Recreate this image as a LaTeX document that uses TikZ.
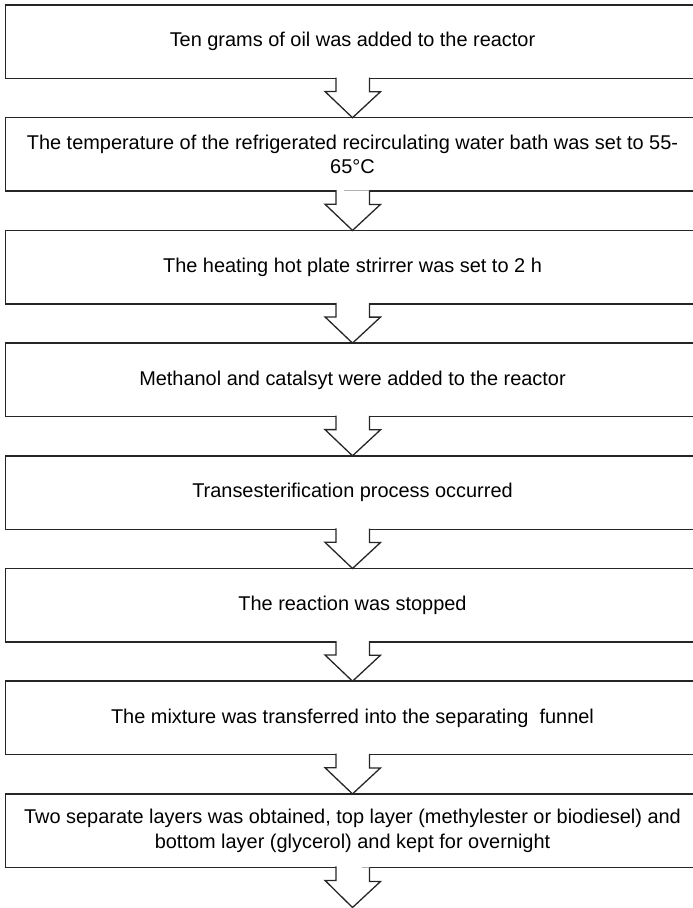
\documentclass[tikz,border=0pt]{standalone}
\usepackage{fontspec}
\setmainfont{Liberation Sans}
\usepackage{tikz}
\usetikzlibrary{calc}

\begin{document}
\begin{tikzpicture}[x=1bp,y=-1bp,
  stepbox/.style={draw=black!85, line width=1.5bp, minimum width=694bp, minimum height=73.5bp,
    inner sep=0pt, outer sep=0pt, align=center, font=\fontsize{20}{24.5}\selectfont},
  blockarr/.style={draw=black!85, fill=white, line width=1.3bp, line join=miter}]
\useasboundingbox (0,0) rectangle (693,908);
\node[stepbox] (s1) at (352.5,41.75) {Ten grams of oil was added to the reactor};
\node[stepbox] (s2) at (352.5,154.45) {The temperature of the refrigerated recirculating water bath was set to 55-\\65°C};
\node[stepbox] (s3) at (352.5,267.15) {The heating hot plate strirrer was set to 2 h};
\node[stepbox] (s4) at (352.5,379.85) {Methanol and catalsyt were added to the reactor};
\node[stepbox] (s5) at (352.5,492.55) {Transesterification process occurred};
\node[stepbox] (s6) at (352.5,605.25) {The reaction was stopped};
\node[stepbox] (s7) at (352.5,717.95) {The mixture was transferred into the separating~ funnel};
\node[stepbox] (s8) at (352.5,830.65) {Two separate layers was obtained, top layer (methylester or biodiesel) and\\bottom layer (glycerol) and kept for overnight};
\coordinate (end) at (352.5,907.5);
% hollow block arrows between the steps
\draw[blockarr] ([xshift=-16.5bp,yshift=1bp]s1.south) -- ++(0,14) -- ++(-11,0) -- (s2.north) -- ++(28,-26) -- ++(-11,0) -- ++(0,-14);
\draw[blockarr] ([xshift=-16.5bp,yshift=1bp]s2.south) -- ++(0,14) -- ++(-11,0) -- (s3.north) -- ++(28,-26) -- ++(-11,0) -- ++(0,-14);
\draw[blockarr] ([xshift=-16.5bp,yshift=1bp]s3.south) -- ++(0,14) -- ++(-11,0) -- (s4.north) -- ++(28,-26) -- ++(-11,0) -- ++(0,-14);
\draw[blockarr] ([xshift=-16.5bp,yshift=1bp]s4.south) -- ++(0,14) -- ++(-11,0) -- (s5.north) -- ++(28,-26) -- ++(-11,0) -- ++(0,-14);
\draw[blockarr] ([xshift=-16.5bp,yshift=1bp]s5.south) -- ++(0,14) -- ++(-11,0) -- (s6.north) -- ++(28,-26) -- ++(-11,0) -- ++(0,-14);
\draw[blockarr] ([xshift=-16.5bp,yshift=1bp]s6.south) -- ++(0,14) -- ++(-11,0) -- (s7.north) -- ++(28,-26) -- ++(-11,0) -- ++(0,-14);
\draw[blockarr] ([xshift=-16.5bp,yshift=1bp]s7.south) -- ++(0,14) -- ++(-11,0) -- (s8.north) -- ++(28,-26) -- ++(-11,0) -- ++(0,-14);
\draw[blockarr] ([xshift=-16.5bp,yshift=1bp]s8.south) -- ++(0,14) -- ++(-11,0) -- (end) -- ++(28,-26) -- ++(-11,0) -- ++(0,-14);
\end{tikzpicture}
\end{document}
